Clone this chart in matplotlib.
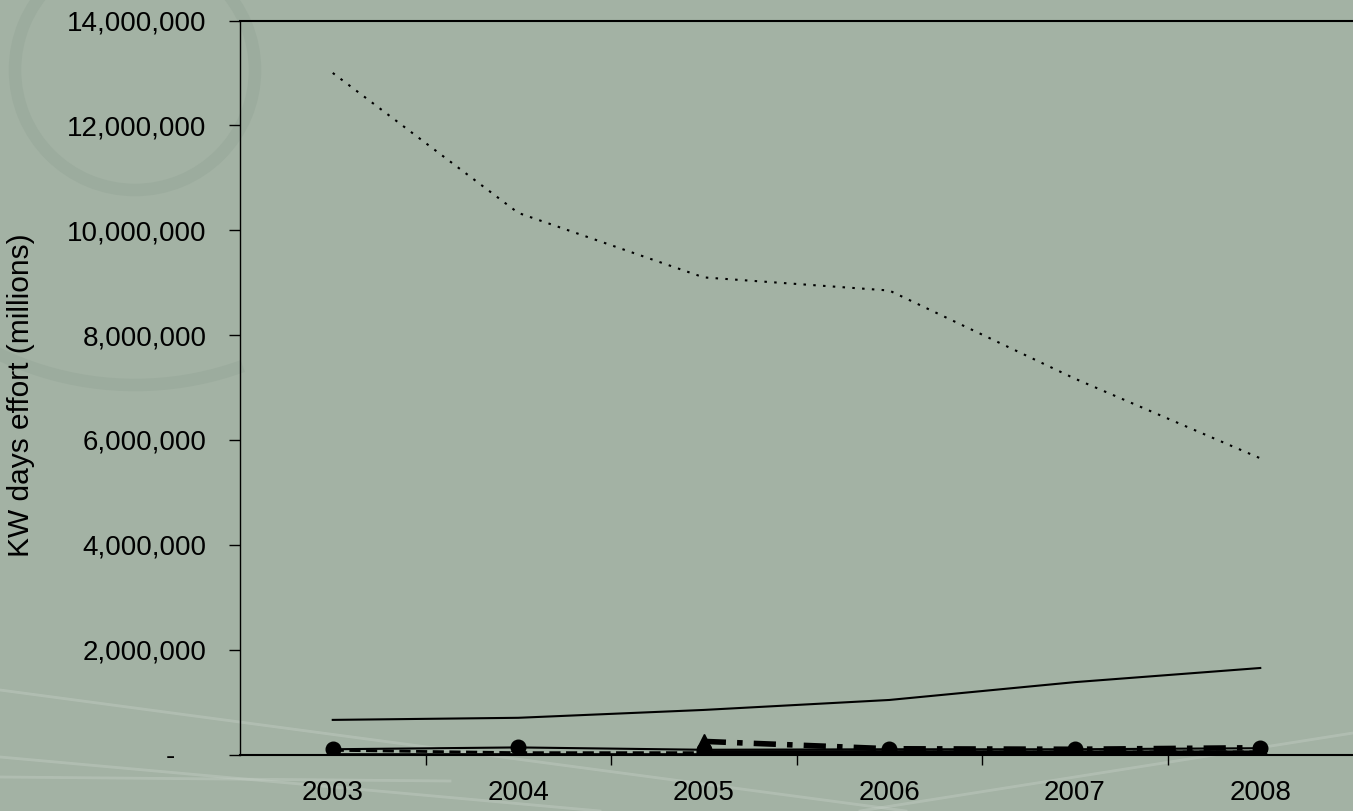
"""KW days effort by year, redrawn from an Excel style line chart."""
import numpy as np
import matplotlib
matplotlib.use('Agg')
from matplotlib import pyplot as plt
from matplotlib.patches import Arc
from matplotlib.lines import Line2D

YEARS = ['2003', '2004', '2005', '2006', '2007', '2008']

# values (KW days)
dotted_vals = [13000000, 10330000, 9100000, 8850000, 7170000, 5650000]
solid_vals = [660000, 700000, 850000, 1040000, 1380000, 1650000]
circle_vals = [100000, 135000, 90000, 100000, 100000, 120000]
dashed_vals = [80000, 35000, 35000, 45000, 45000, 50000]
star_vals = [5000, 5000, 5000, 5000, 5000, 5000]
dashdot_vals = [np.nan, np.nan, 250000, 110000, 100000, 130000]
thick_vals = [np.nan, np.nan, 30000, 30000, 25000, 25000]

Y_TICKS = [0, 2000000, 4000000, 6000000, 8000000, 10000000, 12000000, 14000000]

BG = '#a3b2a4'
FONT = 'Liberation Sans'
TICK_FS = 20

plt.rcParams['font.family'] = [FONT, 'DejaVu Sans']

W, H = 1353, 811
fig = plt.figure(figsize=(W / 100, H / 100), dpi=100)
fig.patch.set_facecolor(BG)

# faint background swirls of the slide template (inches, from bottom left)
for d, t1, t2 in [(2.4, 0, 360), (6.3, 150, 290)]:
    fig.add_artist(Arc((1.35, 7.41), d, d, theta1=t1, theta2=t2,
                       transform=fig.dpi_scale_trans, edgecolor='#9cac9e',
                       lw=9, zorder=-1))
for x0, y0, x1, y1 in [(0, 1.21, 9.06, 0.0), (0, 0.54, 6.0, 0.0),
                       (13.53, 0.78, 8.6, 0.0), (0, 0.34, 4.5, 0.30)]:
    fig.add_artist(Line2D([x0, x1], [y0, y1], transform=fig.dpi_scale_trans,
                          color='#c6d0c7', lw=2, alpha=0.4, zorder=-1))

ax = fig.add_axes([240 / W, 56.5 / H, 1113 / W, 734 / H])
ax.set_facecolor('none')

x = np.arange(len(YEARS))

ax.plot(x, thick_vals, color='black', lw=4, solid_capstyle='butt',
        marker='o', mfc='none', mec='black', ms=10, mew=1.5, markevery=[2])
ax.plot(x, dashdot_vals, color='black', lw=4, linestyle=(0, (4, 2, 1, 2)),
        marker='^', ms=10)
ax.plot(x, dashed_vals, color='black', lw=2, linestyle=(0, (4, 2)))
ax.plot(x, star_vals, color='black', lw=1.2, marker=(6, 2, 0), ms=11, mew=1.5)
ax.plot(x, circle_vals, color='black', lw=1.5, marker='o', ms=10.5)
ax.plot(x, solid_vals, color='black', lw=1.5)
ax.plot(x, dotted_vals, color='black', lw=1.5, linestyle=(0, (1.2, 3.5)))

ax.set_xlim(-0.5, len(YEARS) - 0.5)
ax.set_ylim(0, 14000000)

ax.set_xticks(x)
ax.set_xticklabels(YEARS)
ax.set_xticks(np.arange(0.5, len(YEARS) - 1, 1.0), minor=True)
ax.tick_params(axis='x', which='major', length=0, pad=18, labelsize=TICK_FS)
ax.tick_params(axis='x', which='minor', length=7, width=1, direction='out')

ax.set_yticks(Y_TICKS)
ax.set_yticklabels(['-    '] + ['{:,.0f}'.format(v) for v in Y_TICKS[1:]])
ax.tick_params(axis='y', length=8, width=1, direction='out', pad=16,
               labelsize=TICK_FS)

ax.set_ylabel('KW days effort (millions)', fontsize=21.5)
ax.yaxis.set_label_coords(-0.184, 0.49)

ax.spines['right'].set_visible(False)
ax.spines['left'].set_linewidth(1)
ax.spines['top'].set_linewidth(1.5)
ax.spines['bottom'].set_linewidth(1.5)

plt.savefig('out.png', dpi=100, facecolor=BG)
